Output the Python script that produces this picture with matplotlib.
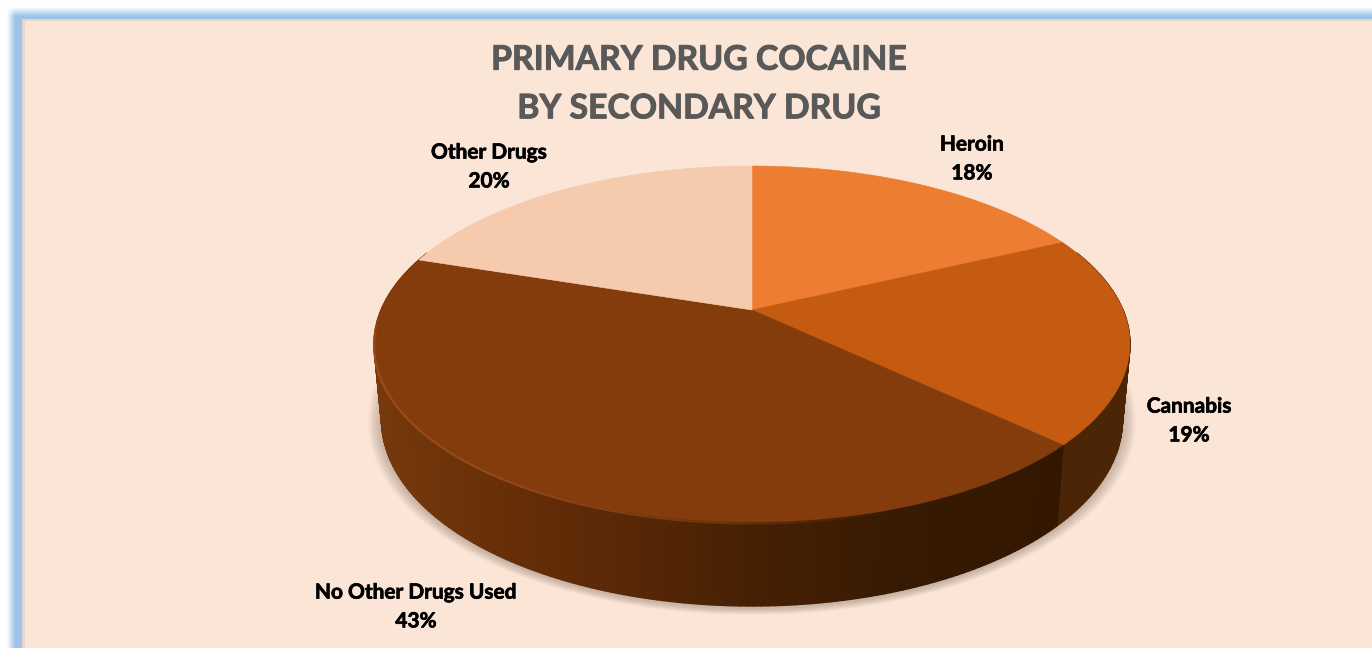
import numpy as np
import matplotlib
matplotlib.use('Agg')
import matplotlib.pyplot as plt
import matplotlib.patheffects as pe
from matplotlib.collections import PolyCollection, LineCollection
from matplotlib.colors import to_rgb

categories = ['Heroin', 'Cannabis', 'No Other Drugs Used', 'Other Drugs']
shares = [18, 19, 43, 20]
title_lines = ['PRIMARY DRUG COCAINE', 'BY SECONDARY DRUG']

slice_colors = ['#ED7D31', '#C55A11', '#843C0C', '#F5CAAD']
label_xy = [(972, 159), (1189, 421), (416, 607), (489, 167)]

W, H = 1372, 648
CX, APEX_Y = 752, 310
K = 0.191
A = -112.3
R = 371


# perspective view of the pie, angle is clockwise from 12 o'clock
def top_rim(theta):
    u, v = np.sin(theta), np.cos(theta)
    w = 1 + K * v
    return CX + R * u / w, (APEX_Y + A * v) / w


def bottom_rim(theta):
    x, y = top_rim(theta)
    return CX + 0.98 * (x - CX), y + 74 - 10 * np.cos(theta)


def side_color(x):
    stops = [374, 500, 640, 750, 900, 1060]
    cols = np.array([to_rgb(c) for c in ['#76390d', '#672f08', '#562706', '#472004', '#371a03', '#331700']])
    return [np.interp(x, stops, cols[:, i]) for i in range(3)]


fig = plt.figure(figsize=(W / 100, H / 100), dpi=100, facecolor='white')
ax = fig.add_axes([0, 0, 1, 1])
ax.set_xlim(0, W)
ax.set_ylim(H, 0)
ax.axis('off')

# panel with the blurred blue frame on the left and top
xx, yy = np.meshgrid(np.arange(W) + 0.5, np.arange(H) + 0.5)
fade = np.clip((xx - 7) / 8, 0, 1) * np.clip((yy - 7) / 9, 0, 1)
bg = np.ones((H, W, 3))
for i in range(3):
    bg[:, :, i] = 1 + (to_rgb('#9DC3E6')[i] - 1) * fade
inside = (xx > 22) & (yy > 19)
bg[inside] = to_rgb('#E2D6CE')
bg[(xx > 25) & (yy > 21)] = to_rgb('#FBE5D7')
ax.imshow(bg, extent=(0, W, H, 0), aspect='auto', interpolation='nearest', zorder=0)

edges = np.radians(np.cumsum([0] + shares) * 3.6)

# soft shadow under the pie
t = np.linspace(0, 2 * np.pi, 360)
bx, by = bottom_rim(t)
for e in range(14, 0, -1):
    s = 1 + e / 378
    ax.fill(CX + (bx - CX) * s, 420 + (by - 420) * s + 2, color='#8a7565', alpha=0.035, lw=0, zorder=1)

# side wall, only the part turned to the viewer
quads, cols = [], []
for i, c in enumerate(categories):
    ts = np.linspace(edges[i], edges[i + 1], shares[i] * 4 + 2)
    for a, b in zip(ts[:-1], ts[1:]):
        if np.cos(a) > 0.35 and np.cos(b) > 0.35:
            continue
        x1, y1 = top_rim(a)
        x2, y2 = top_rim(b)
        x3, y3 = bottom_rim(b)
        x4, y4 = bottom_rim(a)
        quads.append([(x1, y1), (x2, y2), (x3, y3), (x4, y4)])
        if c == 'No Other Drugs Used':
            cols.append(side_color((x1 + x2) / 2))
        else:
            cols.append(to_rgb('#4C2507'))
ax.add_collection(PolyCollection(quads, facecolors=cols, edgecolors=cols, linewidths=1.0, zorder=2))

# top face
for i, c in enumerate(categories):
    ts = np.linspace(edges[i], edges[i + 1], 200)
    x, y = top_rim(ts)
    ax.fill(np.r_[CX, x], np.r_[APEX_Y, y], facecolor=slice_colors[i], edgecolor=slice_colors[i], lw=0.4, zorder=3)

# lighter bevel on the front rim
ts = np.linspace(edges[2], edges[3], 300)
x, y = top_rim(ts)
pts = np.column_stack([x, y + 1.5]).reshape(-1, 1, 2)
segs = np.concatenate([pts[:-1], pts[1:]], axis=1)
base = to_rgb('#A4521F')
seg_cols = [base + (float(np.clip((900 - xm) / 500, 0, 0.8) * np.clip(-np.cos(tm) * 6, 0, 1)),)
            for xm, tm in zip(x[:-1], ts[:-1])]
ax.add_collection(LineCollection(segs, colors=seg_cols, linewidths=1.6, zorder=4))

thick = [pe.withStroke(linewidth=0.5, foreground='black')]
for c, p, (lx, ly) in zip(categories, shares, label_xy):
    ax.text(lx, ly, f'{c}\n{p}%', family='Lato', weight='bold', fontsize=15, color='black',
            ha='center', va='center', linespacing=1.55, zorder=5, path_effects=thick)

ax.text(699, 84, '\n'.join(title_lines), family='Lato', weight='bold', fontsize=24.3, color='#595959',
        ha='center', va='center', linespacing=1.64, zorder=5,
        path_effects=[pe.withStroke(linewidth=0.7, foreground='#595959')])

fig.savefig('out.png', dpi=100)
